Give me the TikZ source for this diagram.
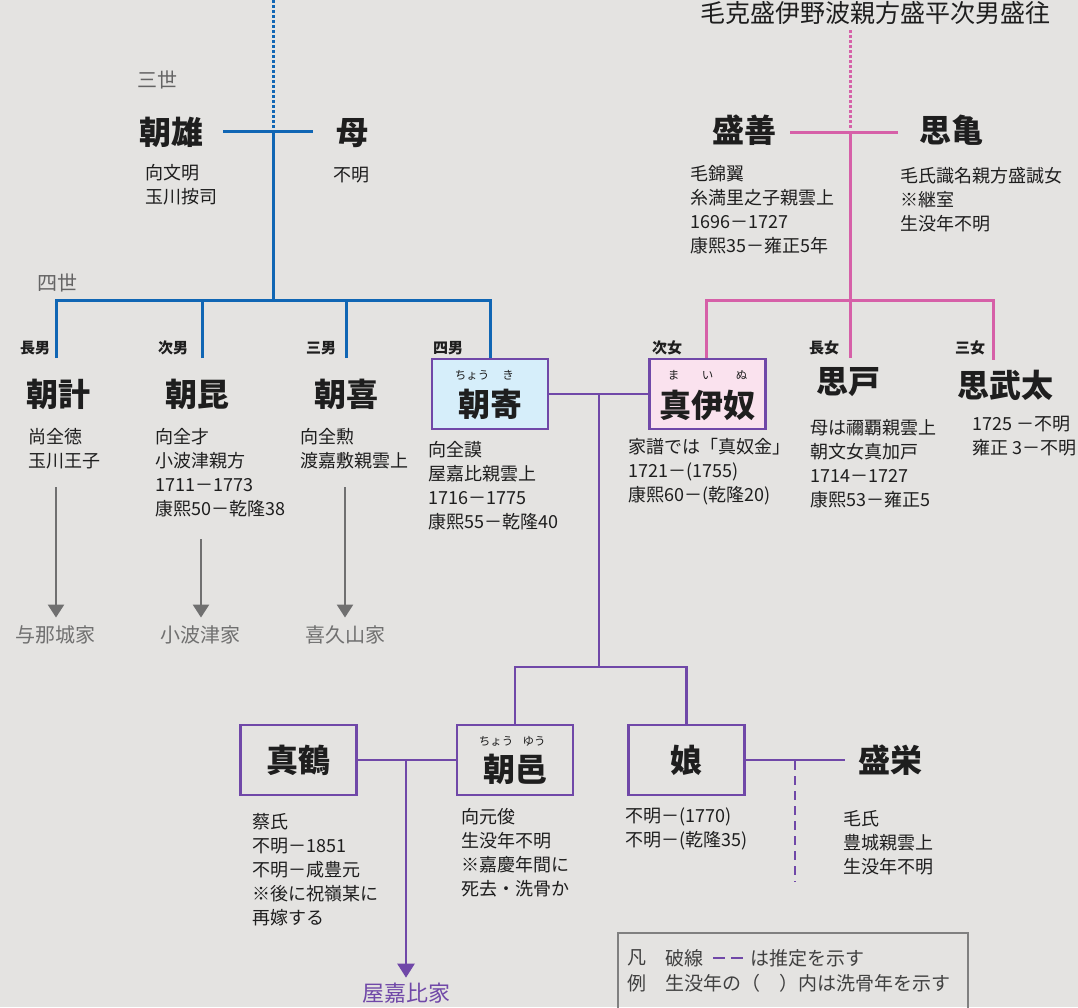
\documentclass[tikz,border=0pt]{standalone}
\usepackage{fontspec}
\setmainfont{Noto Sans CJK JP}
\usetikzlibrary{arrows.meta}
\definecolor{bgc}{RGB}{228,227,225}
\definecolor{blueL}{RGB}{16,102,180}
\definecolor{pinkL}{RGB}{214,96,168}
\definecolor{purpL}{RGB}{112,72,168}
\definecolor{grayA}{RGB}{112,112,112}
\definecolor{genc}{RGB}{100,100,100}
\definecolor{boxBlue}{RGB}{214,238,250}
\definecolor{boxPink}{RGB}{250,226,238}
\definecolor{ink}{RGB}{30,30,30}
\definecolor{legc}{RGB}{128,128,128}
\begin{document}
\begin{tikzpicture}[x=1pt,y=-1pt,
  nm/.style={font=\fontsize{32}{34}\selectfont\bfseries, text=ink, inner sep=0pt},
  info/.style={font=\fontsize{18}{24}\selectfont, text=ink, align=left, anchor=north west, inner sep=0pt},
  rank/.style={font=\fontsize{15}{17}\selectfont\bfseries, text=ink, inner sep=0pt},
  gen/.style={font=\fontsize{20}{22}\selectfont, text=genc, inner sep=0pt},
  house/.style={font=\fontsize{20}{22}\selectfont, text=grayA, inner sep=0pt},
  famframe/.style={draw=purpL, line width=2.5pt, minimum width=116pt, minimum height=70pt, inner sep=0pt},
  ruby/.style={font=\fontsize{11.5}{13}\selectfont, text=ink, inner sep=0pt},
  bl/.style={draw=blueL, line width=3pt},
  pl/.style={draw=pinkL, line width=3pt},
  ul/.style={draw=purpL, line width=2.5pt},
  gl/.style={draw=grayA, line width=2.5pt, -{Triangle[width=16pt,length=13pt]}},
  leg/.style={font=\fontsize{19}{24}\selectfont, text=ink!85, inner sep=0pt, anchor=west},
]
\useasboundingbox (0,0) rectangle (1078,1007);
\clip (0,0) rectangle (1078,1007);
\fill[bgc] (0,0) rectangle (1078,1007);

% ---------- top right cut text
\node[font=\fontsize{25}{27}\selectfont, text=ink, anchor=west, inner sep=0pt] (toptxt) at (700,13) {毛克盛伊野波親方盛平次男盛往};

% ---------- generation labels
\node[gen] (g3) at (157,80) {三世};
\node[gen] (g4) at (57,283) {四世};

% ---------- third generation
\node[nm] (cy0) at (171,132) {朝雄};
\node[nm] (haha) at (352,133) {母};
\node[info] (cy0i) at (145,164) {向文明\\玉川按司};
\node[info] (hahai) at (333,167) {不明};

\node[nm] (sz) at (744,130) {盛善};
\node[nm] (uk) at (951,130) {思亀};
\node[info] (szi) at (690,165) {毛錦翼\\糸満里之子親雲上\\1696－1727\\康熙35－雍正5年};
\node[info] (uki) at (900,167) {毛氏識名親方盛誠女\\※継室\\生没年不明};

% ---------- ranks
\node[rank] (r1) at (35,348) {長男};
\node[rank] (r2) at (173,348) {次男};
\node[rank] (r3) at (321,348) {三男};
\node[rank] (r4) at (448,348) {四男};
\node[rank] (r5) at (667,348) {次女};
\node[rank] (r6) at (824,348) {長女};
\node[rank] (r7) at (970,348) {三女};

% ---------- fourth generation
\node[nm] (ck1) at (59,394) {朝計};
\node[nm] (ck2) at (197,394) {朝昆};
\node[nm] (ck3) at (346,394) {朝喜};
\node[famframe, fill=boxBlue] (ck) at (490,394) {};
\node[nm] (ckn) at (490,404) {朝寄};
\node[ruby] (ckr) at (490,375) {\makebox[36pt]{ちょう}\makebox[36pt]{き}};
\node[famframe, fill=boxPink] (mi) at (707.5,394) {};
\node[nm] (min) at (707.5,405) {真伊奴};
\node[ruby] (mir) at (707.5,375) {\makebox[34pt]{ま}\makebox[34pt]{い}\makebox[34pt]{ぬ}};
\node[nm] (ud) at (848,382) {思戸};
\node[nm] (umt) at (1005,385) {思武太};

\node[info] (ck1i) at (28,428) {尚全徳\\玉川王子};
\node[info] (ck2i) at (155,428) {向全才\\小波津親方\\1711－1773\\康熙50－乾隆38};
\node[info] (ck3i) at (300,428) {向全勲\\渡嘉敷親雲上};
\node[info] (cki) at (428,441) {向全謨\\屋嘉比親雲上\\1716－1775\\康熙55－乾隆40};
\node[info] (mii) at (628,438) {家譜では「真奴金」\\1721－(1755)\\康熙60－(乾隆20)};
\node[info] (udi) at (810,419) {母は禰覇親雲上\\朝文女真加戸\\1714－1727\\康熙53－雍正5};
\node[info] (umti) at (972,416) {1725 －不明\\雍正 3－不明};

% ---------- houses
\node[house] (h1) at (55,635) {与那城家};
\node[house] (h2) at (200,635) {小波津家};
\node[house] (h3) at (345,635) {喜久山家};
\coordinate (a1s) at (56,487);
\coordinate (a2s) at (201,539);
\coordinate (a3s) at (345,487);
\draw[gl] (a1s) -- ([yshift=8pt]h1.north -| a1s);
\draw[gl] (a2s) -- ([yshift=8pt]h2.north -| a2s);
\draw[gl] (a3s) -- ([yshift=8pt]h3.north -| a3s);

% ---------- fifth generation
\node[famframe] (mz) at (298.5,760) {};
\node[nm] (mzn) at (298.5,760) {真鶴};
\node[famframe] (cy) at (515,760) {};
\node[nm] (cyn) at (515,769) {朝邑};
\node[ruby] (cyr) at (515,741) {\makebox[38pt]{ちょう}\makebox[38pt]{ゆう}};
\node[famframe] (mu) at (686.5,760) {};
\node[nm] (mun) at (686.5,760) {娘};
\node[nm] (se) at (890,760) {盛栄};

\node[info] (mzi) at (252,813) {蔡氏\\不明－1851\\不明－咸豊元\\※後に祝嶺某に\\再嫁する};
\node[info] (cyi) at (461,808) {向元俊\\生没年不明\\※嘉慶年間に\\死去・洗骨か};
\node[info] (mui) at (625,808) {不明－(1770)\\不明－(乾隆35)};
\node[info] (sei) at (843,810) {毛氏\\豊城親雲上\\生没年不明};

\node[font=\fontsize{22}{24}\selectfont, text=purpL, inner sep=0pt] (yk) at (406,993) {屋嘉比家};

% ---------- blue connectors
\coordinate (bt) at (273,0);
\coordinate (bm) at (273,131);
\coordinate (bmL) at (223,131);
\coordinate (bmR) at (313,131);
\coordinate (bb) at (273,300);
\coordinate (bd1) at (56,358);
\coordinate (bd2) at (202,358);
\coordinate (bd3) at (346,358);
\draw[bl, dash pattern=on 2.5pt off 2.5pt] (bt) -- ([yshift=3pt]bm);
\draw[bl] (bmL) -- (bmR);
\draw[bl] (bm) -- (bb);
\draw[bl] (bd1) |- (bb) -| (ck.north);
\draw[bl] (bd2) -- (bd2 |- bb);
\draw[bl] (bd3) -- (bd3 |- bb);

% ---------- pink connectors
\coordinate (pt) at (850,30);
\coordinate (pm) at (850,132);
\coordinate (pmL) at (790,132);
\coordinate (pmR) at (898,132);
\coordinate (pb) at (850,300);
\coordinate (pd2) at (850,358);
\coordinate (pd3) at (993,360);
\draw[pl, dash pattern=on 2.5pt off 2.5pt] (pt) -- ([yshift=3pt]pm);
\draw[pl] (pmL) -- (pmR);
\draw[pl] (pm) -- (pb);
\draw[pl] ([xshift=-1.5pt]mi.north) |- (pb) -| (pd3);
\draw[pl] (pb) -- (pd2);

% ---------- purple connectors
\coordinate (j1) at (599,394);
\coordinate (j2) at (599,667);
\coordinate (j3) at (406,760);
\coordinate (sj) at (795,761);
\coordinate (sjd) at (795,882);
\draw[ul] (ck.east) -- (mi.west);
\draw[ul] (j1) -- (j2);
\draw[ul] (cy.north) |- (j2) -| (mu.north);
\draw[ul] (mz.east) -- (cy.west);
\draw[ul, -{Triangle[width=17pt,length=14pt]}] (j3) -- ([yshift=5pt]yk.north);
\draw[ul] (mu.east) -- (se.west -| 845,0);
\draw[ul, dash pattern=on 9pt off 6pt] (sj) -- (sjd);

% ---------- legend
\draw[draw=legc, line width=2.5pt] (618,933) rectangle (968,1020);
\node[leg] (lg1) at (627,958) {凡};
\node[leg] (lg2) at (627,983) {例};
\node[leg] (lg3) at (665,958) {破線};
\coordinate (ld1) at (713,958);
\coordinate (ld2) at (743,958);
\draw[ul, dash pattern=on 12pt off 6pt] (ld1) -- (ld2);
\node[leg] (lg4) at (750,958) {は推定を示す};
\node[leg] (lg5) at (665,983) {生没年の（　）内は洗骨年を示す};
\end{tikzpicture}
\end{document}
